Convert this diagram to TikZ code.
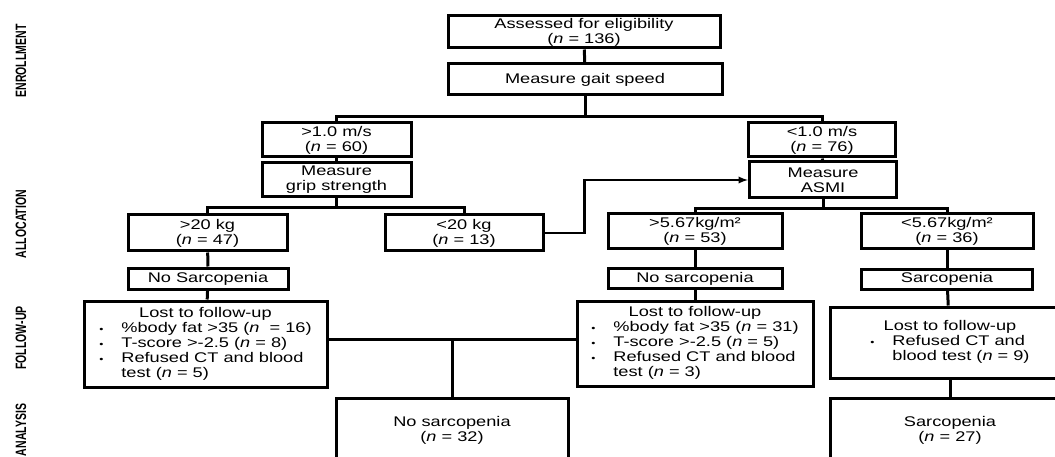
\documentclass[tikz,border=0pt]{standalone}
\usepackage{fontspec}
\setmainfont{Liberation Sans}[FakeStretch=1.3]
\newfontfamily\sidefont{Liberation Sans}[FakeStretch=0.7]
\usepackage{tikz}
\usetikzlibrary{calc}

\newcommand{\smallbullet}{{\fontsize{9}{9}\selectfont\textbullet}}

\tikzset{
    box/.style={draw, line width=3pt, inner sep=0pt, align=center,
        font=\fontsize{14}{15}\selectfont},
    link/.style={line width=3pt},
    phase/.style={rotate=90, font=\sidefont\bfseries\fontsize{15}{15}\selectfont}
}

\begin{document}
\begin{tikzpicture}[>=latex, x=1pt, y=-1pt]
    \useasboundingbox (0,0) rectangle (1055,457);
    \clip (0,0) rectangle (1055,457);

    % Side labels
    \node[phase] (enrol) at (21,61) {ENROLLMENT};
    \node[phase] (alloc) at (21,224) {ALLOCATION};
    \node[phase] (follow) at (21,338) {FOLLOW-UP};
    \node[phase] (analys) at (21,430) {ANALYSIS};

    % Enrollment
    \node[box, minimum width=272, minimum height=32] (assess) at (584,32)
        {Assessed for eligibility\\(\textit{n} = 136)};
    \node[box, minimum width=274, minimum height=31] (gait) at (585,79.5)
        {Measure gait speed};

    % Gait speed groups
    \node[box, minimum width=149, minimum height=34] (fast) at (336.5,140)
        {>1.0 m/s\\(\textit{n} = 60)};
    \node[box, minimum width=149, minimum height=34] (grip) at (336.5,180)
        {Measure\\grip strength};
    \node[box, minimum width=147, minimum height=34] (slow) at (822,140)
        {<1.0 m/s\\(\textit{n} = 76)};
    \node[box, minimum width=147, minimum height=36] (asmi) at (823,180)
        {Measure\\ASMI};

    % Grip strength and ASMI groups
    \node[box, minimum width=159, minimum height=36] (heavy) at (207.5,233)
        {>20 kg\\(\textit{n} = 47)};
    \node[box, minimum width=158, minimum height=36] (light) at (464,233)
        {<20 kg\\(\textit{n} = 13)};
    \node[box, minimum width=174, minimum height=35] (highA) at (695,231.5)
        {>5.67kg/m²\\(\textit{n} = 53)};
    \node[box, minimum width=172, minimum height=35] (lowA) at (947,231.5)
        {<5.67kg/m²\\(\textit{n} = 36)};

    \node[box, minimum width=160, minimum height=21] (nosarcL) at (208,278.5)
        {No Sarcopenia};
    \node[box, minimum width=174, minimum height=20] (nosarcM) at (695,278.5)
        {No sarcopenia};
    \node[box, minimum width=171, minimum height=20] (sarc) at (947,279)
        {Sarcopenia};

    % Follow-up
    \node[box, minimum width=243, minimum height=86] (lostL) at (205.5,344)
        {\begin{tabular}{@{}p{22pt}@{}l@{}}
            \multicolumn{2}{c}{Lost to follow-up}\\
            \smallbullet & \%body fat >35 (\textit{n}\ \ = 16)\\
            \smallbullet & T-score >-2.5 (\textit{n} = 8)\\
            \smallbullet & Refused CT and blood\\
             & test (\textit{n} = 5)
        \end{tabular}};
    \node[box, minimum width=236, minimum height=85] (lostM) at (695,343.5)
        {\begin{tabular}{@{}p{22pt}@{}l@{}}
            \multicolumn{2}{c}{Lost to follow-up}\\
            \smallbullet & \%body fat >35 (\textit{n} = 31)\\
            \smallbullet & T-score >-2.5 (\textit{n} = 5)\\
            \smallbullet & Refused CT and blood\\
             & test (\textit{n} = 3)
        \end{tabular}};
    \node[box, minimum width=240, minimum height=71] (lostR) at (950,342.5)
        {\begin{tabular}{@{}p{22pt}@{}l@{}}
            \multicolumn{2}{c}{Lost to follow-up}\\
            \smallbullet & Refused CT and\\
             & blood test (\textit{n} = 9)
        \end{tabular}};

    % Analysis
    \node[box, minimum width=232, minimum height=64] (finalN) at (452,430)
        {No sarcopenia\\(\textit{n} = 32)};
    \node[box, minimum width=240, minimum height=64] (finalS) at (950,430)
        {Sarcopenia\\(\textit{n} = 27)};

    % Connectors
    \coordinate (split1) at (585,117);
    \coordinate (split2) at (336.5,208);
    \coordinate (split3) at (823,209);
    \coordinate (merge) at (452,339);

    \draw[link] (assess) -- (gait);
    \draw[link] (gait.south) -- (split1);
    \draw[link] (fast.north) |- (split1) -| (slow.north);
    \draw[link] (fast) -- (grip);
    \draw[link] (slow) -- (asmi);

    \draw[link] (grip.south) -- (split2);
    \draw[link] (heavy.north) |- (split2) -| (light.north);
    \draw[link] (asmi.south) -- (split3);
    \draw[link] (highA.north) |- (split3) -| (lowA.north);

    \draw[line width=2.2pt, ->] (light.east) -- ++(40,0) |- (asmi.west);

    \draw[link] (heavy) -- (nosarcL);
    \draw[link] (nosarcL) -- (lostL);
    \draw[link] (highA) -- (nosarcM);
    \draw[link] (nosarcM) -- (lostM);
    \draw[link] (lowA) -- (sarc);
    \draw[link] (sarc) -- (lostR);
    \draw[link] (lostR) -- (finalS);

    \draw[link] ([yshift=5pt]lostL.east) -- ([yshift=4.5pt]lostM.west);
    \draw[link] (merge) -- (finalN.north);
\end{tikzpicture}
\end{document}
